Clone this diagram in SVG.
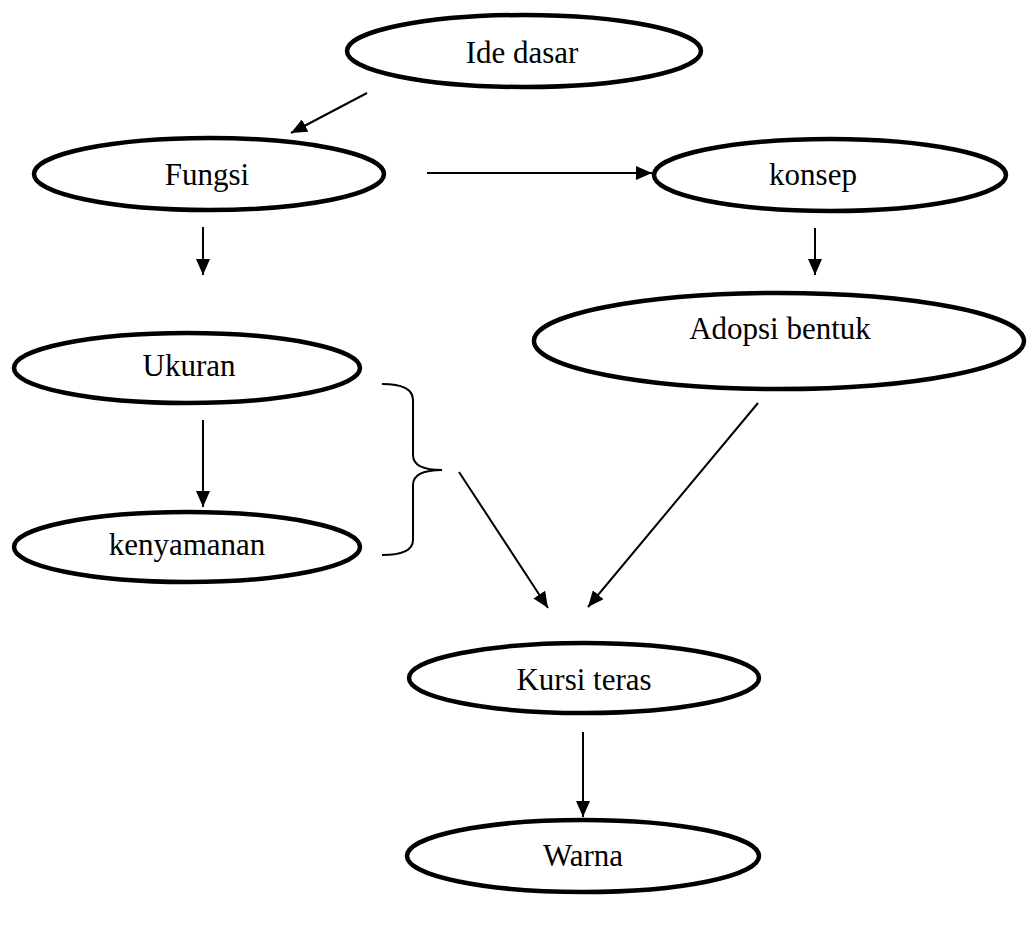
<svg xmlns="http://www.w3.org/2000/svg" width="1028" height="939" viewBox="0 0 1028 939">
<style>
.n ellipse{fill:#fff;stroke:#000;stroke-width:4.5}
.n text{font-family:"Liberation Serif","Times New Roman",serif;font-size:31px;fill:#000;text-anchor:middle}
.c line,.c path{stroke:#000;stroke-width:2;fill:none}
</style>
<defs>
<marker id="ah" markerUnits="userSpaceOnUse" markerWidth="18" markerHeight="14" refX="16" refY="7" orient="auto">
<path d="M0,0 L16,7 L0,14 Z" fill="#000"/>
</marker>
</defs>
<g id="n-ide" class="n"><ellipse cx="524" cy="51" rx="177" ry="36"/><text x="522" y="63">Ide dasar</text></g>
<g id="n-fungsi" class="n"><ellipse cx="209" cy="174" rx="175" ry="36"/><text x="207" y="185">Fungsi</text></g>
<g id="n-konsep" class="n"><ellipse cx="830" cy="175" rx="176" ry="36"/><text x="813" y="185">konsep</text></g>
<g id="n-adopsi" class="n"><ellipse cx="779" cy="341" rx="245" ry="48"/><text x="780" y="339">Adopsi bentuk</text></g>
<g id="n-ukuran" class="n"><ellipse cx="187" cy="368" rx="173" ry="35"/><text x="189" y="376">Ukuran</text></g>
<g id="n-kenyamanan" class="n"><ellipse cx="187" cy="547" rx="173" ry="35"/><text x="187" y="555">kenyamanan</text></g>
<g id="n-kursi" class="n"><ellipse cx="584" cy="678" rx="175" ry="35"/><text x="584" y="690">Kursi teras</text></g>
<g id="n-warna" class="n"><ellipse cx="583" cy="856" rx="176" ry="36"/><text x="583" y="866">Warna</text></g>
<g class="c" id="connectors">
<line x1="367" y1="93" x2="291" y2="133" marker-end="url(#ah)"/>
<line x1="427" y1="173" x2="652" y2="173" marker-end="url(#ah)"/>
<line x1="203" y1="227" x2="203" y2="275" marker-end="url(#ah)"/>
<line x1="815" y1="228" x2="815" y2="275" marker-end="url(#ah)"/>
<line x1="203" y1="420" x2="203" y2="507" marker-end="url(#ah)"/>
<line x1="459" y1="472" x2="548" y2="608" marker-end="url(#ah)"/>
<line x1="758" y1="403" x2="588" y2="607" marker-end="url(#ah)"/>
<line x1="583" y1="732" x2="583" y2="817" marker-end="url(#ah)"/>
<path d="M382,384 Q413,384 413,400 L413,455 Q413,470 442,470 Q413,470 413,485 L413,540 Q413,555 382,555"/>
</g>
</svg>
